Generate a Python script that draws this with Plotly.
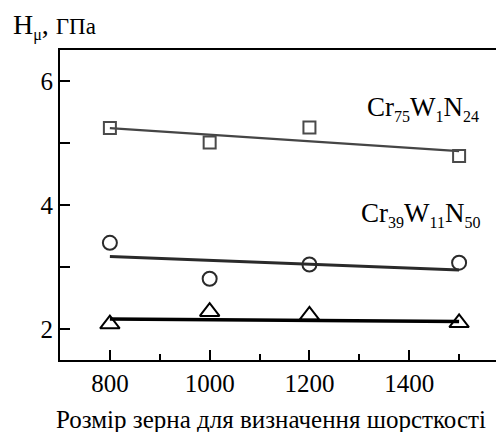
import plotly.graph_objects as go

# grain size (x) and microhardness, GPa (y)
grain = [800, 1000, 1200, 1500]
h_cr75 = [5.24, 5.01, 5.25, 4.79]
h_cr39 = [3.39, 2.81, 3.04, 3.07]
h_tri = [2.08, 2.28, 2.22, 2.10]

# trend lines (ends at 800 and 1500)
fit_x = [800, 1500]
fit_cr75 = [5.24, 4.87]
fit_cr39 = [3.17, 2.95]
fit_tri = [2.16, 2.12]

x_major = [800, 1000, 1200, 1400]
x_minor = [900, 1100, 1300, 1500]
y_ticks = [2, 3, 4, 5, 6]
y_labels = ["2", "", "4", "", "6"]

FONT = "Liberation Serif"


def sub(s):
    return "<sub><span style='font-size:16px'>" + s + "</span></sub>"


fig = go.Figure()

fig.add_scatter(x=fit_x, y=fit_cr75, mode="lines",
                line=dict(color="#454545", width=2.2), showlegend=False)
fig.add_scatter(x=fit_x, y=fit_cr39, mode="lines",
                line=dict(color="#2a2a2a", width=3), showlegend=False)
fig.add_scatter(x=fit_x, y=fit_tri, mode="lines",
                line=dict(color="black", width=3.5), showlegend=False)

fig.add_scatter(x=grain, y=h_cr75, mode="markers", showlegend=False,
                marker=dict(symbol="square-open", size=12, color="#4a4a4a",
                            line=dict(width=2)))
fig.add_scatter(x=grain, y=h_cr39, mode="markers", showlegend=False,
                marker=dict(symbol="circle-open", size=14, color="#2a2a2a",
                            line=dict(width=2)))
fig.add_scatter(x=grain, y=h_tri, mode="markers", showlegend=False,
                marker=dict(symbol="triangle-up-open", size=17, color="black",
                            line=dict(width=2)))

fig.update_layout(
    template="none",
    width=496,
    height=424,
    margin=dict(l=52, r=0, t=42, b=72),
    plot_bgcolor="white",
    paper_bgcolor="white",
    font=dict(family=FONT, size=25, color="black"),
    annotations=[
        dict(text="H" + sub("μ") + ", <span style='font-size:23px'>ГПа</span>",
             xref="paper", yref="paper", x=-0.11, y=1.0, yshift=4,
             xanchor="left", yanchor="bottom", showarrow=False,
             font=dict(family=FONT, size=28)),
        dict(text="Cr" + sub("75") + "W" + sub("1") + "N" + sub("24"),
             x=1428, y=5.55, xanchor="center", yanchor="middle",
             showarrow=False, font=dict(family=FONT, size=27)),
        dict(text="Cr" + sub("39") + "W" + sub("11") + "N" + sub("50"),
             x=1422, y=3.85, xanchor="center", yanchor="middle",
             showarrow=False, font=dict(family=FONT, size=27)),
        dict(text="Розмір зерна для визначення шорсткості",
             xref="paper", yref="paper", x=0.475, y=0, yshift=-44,
             xanchor="center", yanchor="top", showarrow=False,
             font=dict(family=FONT, size=25)),
    ],
)

fig.update_xaxes(
    range=[700, 1590],
    tickvals=x_major,
    tickfont=dict(family=FONT, size=25, color="black"),
    ticks="inside",
    ticklen=10,
    tickwidth=1.5,
    tickcolor="black",
    minor=dict(tickvals=x_minor, ticks="inside", ticklen=6,
               tickwidth=1.5, tickcolor="black"),
    showline=True,
    linecolor="black",
    linewidth=2,
    mirror=True,
    showgrid=False,
    zeroline=False,
)

fig.update_yaxes(
    range=[1.5, 6.5],
    tickvals=y_ticks,
    ticktext=y_labels,
    tickfont=dict(family=FONT, size=25, color="black"),
    ticks="inside",
    ticklen=10,
    tickwidth=1.5,
    tickcolor="black",
    showline=True,
    linecolor="black",
    linewidth=2,
    mirror=False,
    showgrid=False,
    zeroline=False,
)

fig.write_html("out.html")
